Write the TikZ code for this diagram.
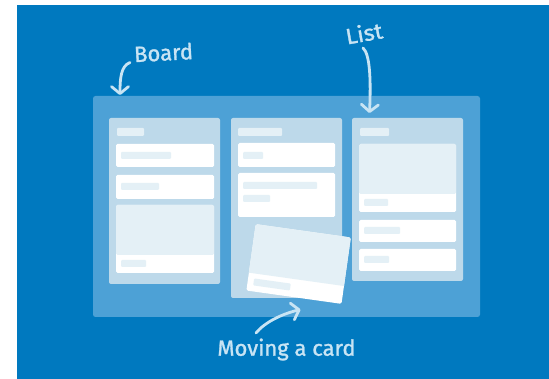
\documentclass[tikz,border=0pt]{standalone}
\usepackage{fontspec}
\newfontfamily\handfont[FakeBold=1.3]{Fira Sans}
\usetikzlibrary{arrows.meta}
\definecolor{bgblue}{HTML}{0079BF}
\definecolor{boardc}{HTML}{4DA1D6}
\definecolor{listc}{HTML}{BDD9EA}
\definecolor{pale}{HTML}{E4F0F6}
\definecolor{ink}{HTML}{C8E4F4}
\tikzset{
  box/.style={anchor=north west, inner sep=0pt, outer sep=0pt},
  boardbox/.style={box, fill=boardc, rounded corners=2.5pt},
  listbox/.style={box, fill=listc, rounded corners=2pt},
  cardbox/.style={box, fill=white, rounded corners=1.5pt},
  imgcard/.style={cardbox, path picture={\fill[pale] (path picture bounding box.north west) rectangle ([yshift=18pt]path picture bounding box.south east);}},
  ph/.style={box, fill=pale, rounded corners=1pt, minimum height=7pt},
  title/.style={box, fill=pale, rounded corners=1pt, minimum height=8pt},
  lbl/.style={inner sep=0pt, text=ink, font=\handfont\fontsize{22}{22}\selectfont},
  arr/.style={draw=ink, line width=2.8pt, line cap=round, -{Straight Barb[length=7pt,width=17pt,round]}}
}
\begin{document}
\begin{tikzpicture}[x=1pt,y=-1pt]
\useasboundingbox (0,0) rectangle (549,379);
\fill[white] (0,0) rectangle (549,379);
\fill[bgblue] (17,5) rectangle (549,379);
% board
\node[boardbox, minimum width=387pt, minimum height=221pt] (board) at (93,96) {};
% lists
\node[listbox, minimum width=111pt, minimum height=166pt] (list1) at (109,118) {};
\node[listbox, minimum width=111pt, minimum height=180pt] (list2) at (231,118) {};
\node[listbox, minimum width=111pt, minimum height=163pt] (list3) at (352,118) {};
% titles
\node[title, minimum width=27pt] (t1) at (117,128) {};
\node[title, minimum width=44pt] (t2) at (238,128) {};
\node[title, minimum width=29pt] (t3) at (360,128) {};
% list 1 cards
\node[cardbox, minimum width=98pt, minimum height=23pt] (c11) at (116,144) {};
\node[ph, minimum width=50pt] (p11) at (121,152) {};
\node[cardbox, minimum width=98pt, minimum height=24pt] (c12) at (116,175) {};
\node[ph, minimum width=38pt] (p12) at (121,183) {};
\node[imgcard, minimum width=98pt, minimum height=68pt] (c13) at (116,205) {};
\node[ph, minimum width=25pt] (p13) at (121,260) {};
% list 2 cards
\node[cardbox, minimum width=97pt, minimum height=24pt] (c21) at (238,143) {};
\node[ph, minimum width=20pt] (p21) at (243,152) {};
\node[cardbox, minimum width=97pt, minimum height=44pt] (c22) at (238,173) {};
\node[ph, minimum width=74pt] (p22a) at (243,182) {};
\node[ph, minimum width=27pt] (p22b) at (243,195) {};
% list 3 cards
\node[imgcard, minimum width=97pt, minimum height=68pt] (c31) at (359,144) {};
\node[ph, minimum width=24pt] (p31) at (364,199) {};
\node[cardbox, minimum width=97pt, minimum height=22pt] (c32) at (359,220) {};
\node[ph, minimum width=36pt] (p32) at (364,227) {};
\node[cardbox, minimum width=97pt, minimum height=22pt] (c33) at (359,249) {};
\node[ph, minimum width=25pt] (p33) at (364,256) {};
% moving card
\begin{scope}[shift={(298.6,264)}, rotate=-8, transform shape]
\node[cardbox, anchor=center, minimum width=96pt, minimum height=67pt] (mc) at (0,0) {};
\path[fill=pale] (-48,15.5) {[rounded corners=1.5pt] -- (-48,-33.5) -- (48,-33.5)} -- (48,15.5) -- cycle;
\node[ph, minimum width=37pt] (pmc) at (-42,20.5) {};
\end{scope}
% labels
\node[lbl, rotate=3] (lboard) at (163.5,52.5) {Board};
\node[lbl, rotate=10] (llist) at (364,33) {\scalebox{1.05}[1]{List}};
\node[lbl] (lmove) at (286.5,349.5) {Moving a card};
% arrows
\coordinate (bs) at (130,62.5);
\coordinate (bt) at (120,95);
\coordinate (ls) at (363,48);
\coordinate (lt) at (369.5,113);
\coordinate (ms) at (256,333);
\coordinate (mt) at (300.5,309.5);
\draw[arr] (bs) .. controls (121,66) and (120,78) .. (bt);
\draw[arr] (ls) .. controls (370,54) and (371,80) .. (lt);
\draw[arr] (ms) .. controls (265,322) and (282,314) .. (mt);
\end{tikzpicture}
\end{document}
